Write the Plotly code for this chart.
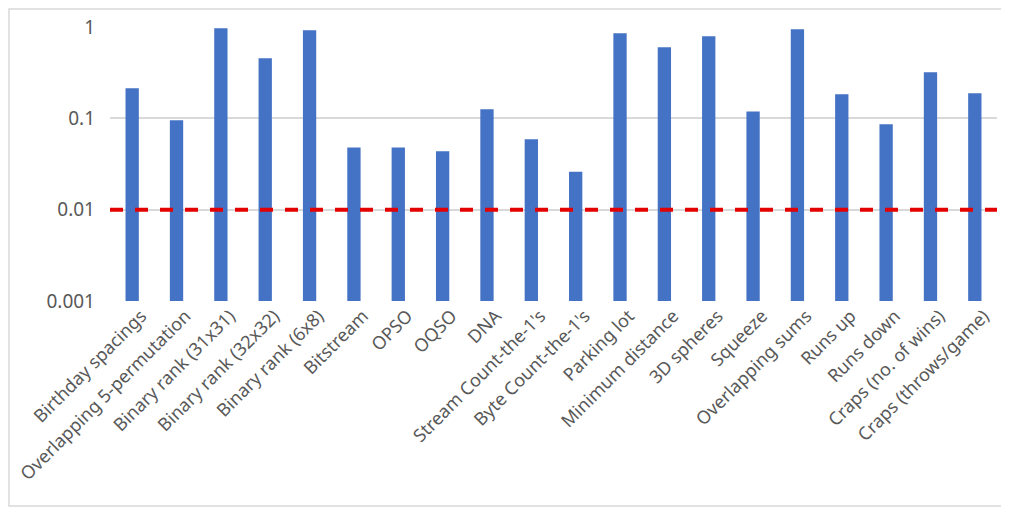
import plotly.graph_objects as go

categories = [
    "Birthday spacings", "Overlapping 5-permutation", "Binary rank (31x31)",
    "Binary rank (32x32)", "Binary rank (6x8)", "Bitstream", "OPSO", "OQSO",
    "DNA", "Stream Count-the-1's", "Byte Count-the-1's", "Parking lot",
    "Minimum distance", "3D spheres", "Squeeze", "Overlapping sums",
    "Runs up", "Runs down", "Craps (no. of wins)", "Craps (throws/game)",
]
p_values = [
    0.213, 0.095, 0.97, 0.454, 0.92, 0.048, 0.048, 0.0435,
    0.1256, 0.059, 0.026, 0.853, 0.60, 0.79, 0.119, 0.944,
    0.183, 0.086, 0.32, 0.188,
]
threshold = 0.01
y_tickvals = [0.001, 0.01, 0.1, 1]
y_ticktext = ["0.001", "0.01", "0.1", "1"]

W, H = 1001, 499
L, R, T, B = 102, 12, 19, 206
pw, ph = W - L - R, H - T - B

fig = go.Figure()
fig.add_trace(go.Bar(
    x=categories, y=p_values,
    marker=dict(color="#4472C4", line=dict(width=0)),
    width=0.3,
))

fig.update_layout(
    width=W, height=H,
    margin=dict(l=L, r=R, t=T, b=B, autoexpand=False),
    paper_bgcolor="white", plot_bgcolor="white",
    showlegend=False,
    font=dict(family="Noto Sans", color="#595959"),
    xaxis=dict(
        tickangle=-45, tickfont=dict(size=18, color="#595959"),
        showgrid=False, showline=False, ticks="", automargin=False,
        ticklabelshift=9,
    ),
    yaxis=dict(
        type="log", range=[-3, 0],
        tickvals=y_tickvals, ticktext=y_ticktext,
        tickfont=dict(size=19, color="#595959"),
        showgrid=True, gridcolor="#D9D9D9", gridwidth=1.5,
        zeroline=False, showline=False, ticks="", ticklabelstandoff=14,
        automargin=False,
    ),
)
# chart-area border
fig.add_shape(type="rect", xref="paper", yref="paper",
              x0=-(L - 1) / pw, x1=1 + (R - 1) / pw,
              y0=-(B - 1) / ph, y1=1 + (T - 1) / ph,
              line=dict(color="#D9D9D9", width=1.5), layer="below")
fig.add_hline(y=threshold, line=dict(color="#E30000", width=4, dash="13px,12px"))
fig.write_html("out.html")
